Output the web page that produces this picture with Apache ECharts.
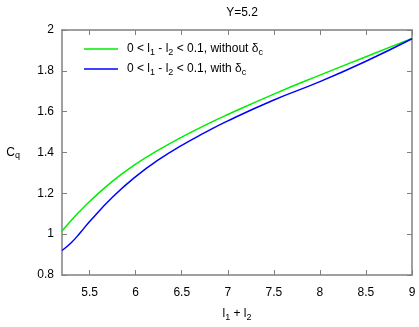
<!DOCTYPE html>
<html>
<head>
<meta charset="utf-8">
<script src="https://cdn.jsdelivr.net/npm/echarts@6/dist/echarts.min.js"></script>
<style>
  html, body { margin: 0; padding: 0; background: #fff; }
  #chart { width: 419px; height: 327px; }
</style>
</head>
<body>
<div id="chart"></div>
<script>
// l1 + l2 sample points
const xs = [5.2, 5.3, 5.4, 5.5, 5.75, 6, 6.25, 6.5, 6.75, 7, 7.5, 8, 8.5, 9]
// Cq without delta_c (green)
const withoutDc = [1.015, 1.067, 1.115, 1.16, 1.26, 1.343, 1.413, 1.475, 1.533, 1.586, 1.686, 1.779, 1.869, 1.959]
// Cq with delta_c (blue)
const withDc = [0.92, 0.958, 1.008, 1.062, 1.182, 1.282, 1.365, 1.435, 1.497, 1.555, 1.657, 1.747, 1.847, 1.957]
const xTicks = [5.5, 6, 6.5, 7, 7.5, 8, 8.5, 9]
const yTicks = [0.8, 1, 1.2, 1.4, 1.6, 1.8, 2]
const names = ['without', 'with']

const font = 'Liberation Sans, Arial, sans-serif'
const frame = '#808080'

function pairs (ys) {
  return xs.map((x, i) => [x, ys[i]])
}

// 四条边都有向内的刻度
function xAxis (pos, showLabel) {
  return {
    type: 'value', position: pos, min: 5.2, max: 9,
    axisLine: { show: true, onZero: false, lineStyle: { color: frame, width: 1.5 } },
    axisTick: { show: true, inside: true, length: 5, customValues: xTicks, lineStyle: { color: frame } },
    axisLabel: { show: showLabel, customValues: xTicks, color: '#000', fontSize: 12, fontFamily: font, margin: 12 },
    splitLine: { show: false },
    name: showLabel ? '{a|l}{s|1}{a| + l}{s|2}' : '',
    nameLocation: 'middle', nameGap: 31,
    nameTextStyle: {
      rich: {
        a: { fontSize: 12, fontFamily: font, color: '#000' },
        s: { fontSize: 9, fontFamily: font, color: '#000', padding: [7, 0, 0, 0] }
      }
    }
  }
}

function yAxis (pos, showLabel) {
  return {
    type: 'value', position: pos, min: 0.8, max: 2,
    axisLine: { show: true, onZero: false, lineStyle: { color: frame, width: 1.5 } },
    axisTick: { show: true, inside: true, length: 5, customValues: yTicks, lineStyle: { color: frame } },
    axisLabel: { show: showLabel, customValues: yTicks, color: '#000', fontSize: 12, fontFamily: font, margin: 8 },
    splitLine: { show: false },
    name: showLabel ? '{a|C}{s|q}' : '',
    nameLocation: 'middle', nameGap: 42, nameRotate: 0,
    nameTextStyle: {
      rich: {
        a: { fontSize: 12, fontFamily: font, color: '#000' },
        s: { fontSize: 9, fontFamily: font, color: '#000', padding: [7, 0, 0, 0] }
      }
    }
  }
}

const option = {
  animation: false,
  backgroundColor: '#fff',
  title: {
    text: 'Y=5.2', left: 237, top: 2, textAlign: 'center',
    textStyle: { fontSize: 12, fontWeight: 'normal', fontFamily: font, color: '#000' }
  },
  grid: { left: 62, right: 7, top: 30, bottom: 45 },
  xAxis: [xAxis('bottom', true), xAxis('top', false)],
  yAxis: [yAxis('left', true), yAxis('right', false)],
  legend: {
    orient: 'vertical', left: 79, top: 38, itemGap: 6,
    icon: 'rect', itemWidth: 34, itemHeight: 1.5,
    data: names,
    formatter: (n) => '{a|0 < l}{s|1}{a| - l}{s|2}{a| < 0.1, ' + n + ' δ}{s|c}',
    textStyle: {
      padding: [0, 0, 0, 4],
      rich: {
        a: { fontSize: 12, fontFamily: font, color: '#000', lineHeight: 15 },
        s: { fontSize: 9, fontFamily: font, color: '#000', padding: [7, 0, 0, 0] }
      }
    }
  },
  series: [
    {
      name: 'without', type: 'line', smooth: 0.5, symbol: 'none',
      xAxisIndex: 0, yAxisIndex: 0,
      lineStyle: { color: '#00ee00', width: 1.5 }, itemStyle: { color: '#00ee00' },
      data: pairs(withoutDc)
    },
    {
      name: 'with', type: 'line', smooth: 0.5, symbol: 'none',
      xAxisIndex: 0, yAxisIndex: 0,
      lineStyle: { color: '#0000ff', width: 1.5 }, itemStyle: { color: '#0000ff' },
      data: pairs(withDc)
    }
  ]
}

const myChart = echarts.init(document.getElementById('chart'))
myChart.setOption(option)
</script>
</body>
</html>
